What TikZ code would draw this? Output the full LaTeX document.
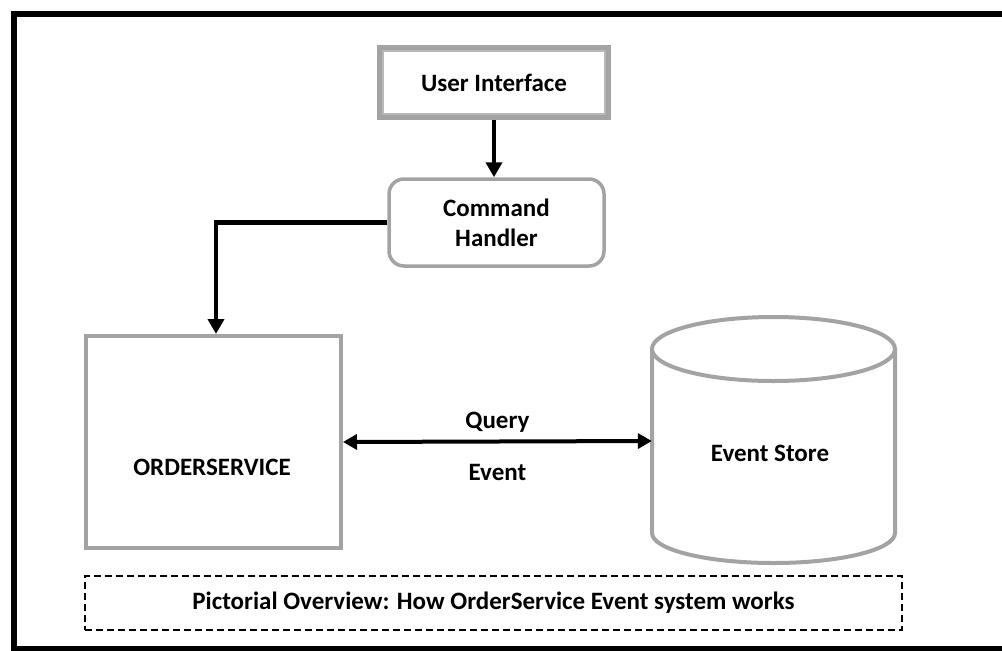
\documentclass[tikz,border=0pt]{standalone}
\usepackage{fontspec}
\setmainfont{Carlito}
\usetikzlibrary{arrows.meta,calc}
\definecolor{boxgray}{HTML}{A3A3A3}
\definecolor{linegray}{HTML}{B8B8B8}
\tikzset{
  lbl/.style={font=\fontsize{25}{30}\selectfont\bfseries, text=black, inner sep=0pt},
  graybox/.style={draw=boxgray, line width=4pt, fill=white},
  arr/.style={draw=black, line width=4.5pt, -{Triangle[length=15pt,width=16pt]}},
  darr/.style={draw=black, line width=4pt, {Triangle[length=14pt,width=15pt]}-{Triangle[length=14pt,width=15pt]}},
}
\begin{document}
\begin{tikzpicture}[x=1pt,y=-1pt]
\useasboundingbox (0,0) rectangle (1002,651);
\fill[white] (0,0) rectangle (1002,651);
% outer frame
\draw[black, line width=6pt] (13.5,13.5) rectangle (1004.5,649);
% User Interface
\node[draw=boxgray, line width=6pt, fill=white, minimum width=228pt, minimum height=69pt, inner sep=0pt] (ui) at (494,82.5) {};
\draw[linegray, line width=1.5pt] ([shift={(6pt,-6pt)}]ui.north west) rectangle ([shift={(-6pt,6pt)}]ui.south east);
\node[lbl] (uit) at (ui.center) {User Interface};
% Command Handler
\node[graybox, line width=3.5pt, rounded corners=15pt, minimum width=215pt, minimum height=87pt, inner sep=0pt, align=center, lbl] (ch) at (496.5,222.5) {Command\\Handler};
% ORDERSERVICE
\node[graybox, minimum width=255pt, minimum height=212pt, inner sep=0pt] (os) at (213.5,442) {};
\node[lbl] (ost) at (212,467) {ORDERSERVICE};
% Event Store cylinder
\node[minimum width=243pt, minimum height=246pt, inner sep=0pt] (es) at (773.5,441) {};
\fill[white] (652,349) -- (652,533) arc[start angle=180, end angle=360, x radius=121.5pt, y radius=30pt] -- (895,349) -- cycle;
\draw[boxgray, line width=4pt] (652,349) -- (652,533) arc[start angle=180, end angle=360, x radius=121.5pt, y radius=30pt] -- (895,349);
\draw[boxgray, line width=4pt, fill=white] (773.5,349) ellipse [x radius=121.5pt, y radius=32pt];
\node[lbl] (est) at (770,453) {Event Store};
% caption
\node[draw=black, line width=1.6pt, dash pattern=on 7pt off 4pt, minimum width=817pt, minimum height=54pt, inner sep=0pt, lbl] (cap) at (493.5,603) {Pictorial Overview: How OrderService Event system works};
% connectors
\draw[arr] (ui.south) -- (ui.south |- ch.north);
\draw[arr] (ch.west) -| ([xshift=2.5pt]os.north);
\draw[darr] (os.east) -- (es.west)
  node[lbl, midway, yshift=19pt] (q) {Query}
  node[lbl, midway, yshift=-31pt] (ev) {Event};
\end{tikzpicture}
\end{document}
